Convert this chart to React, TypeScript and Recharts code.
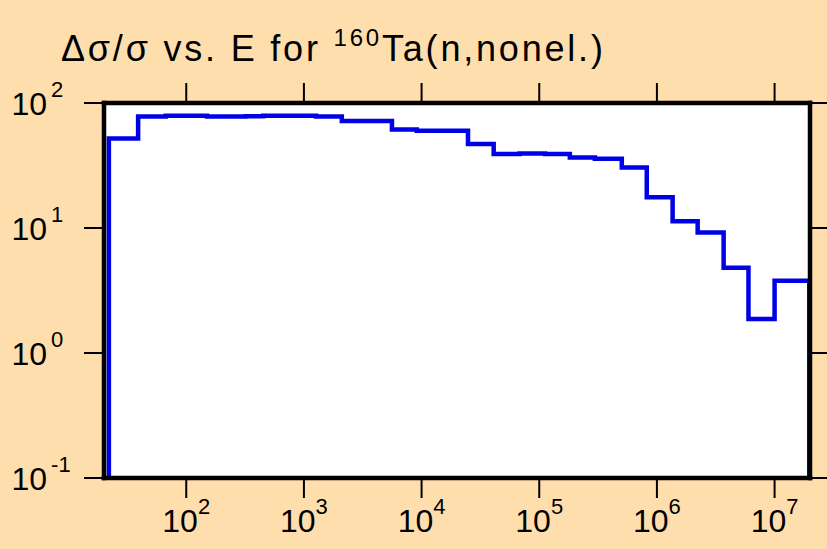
import { LineChart, Line, XAxis, YAxis, CartesianGrid } from 'recharts';

// group boundaries (eV) and relative uncertainty (%)
const binEdges = [
  22, 39, 67, 150, 320, 450, 1270, 2100, 5600, 9100, 24800, 41000, 68000,
  112000, 182000, 297000, 503000, 820000, 1.36e6, 2.22e6, 3.69e6, 6.0e6, 1.0e7, 1.97e7,
];
const binValues = [
  52, 78, 79, 78, 78.5, 79, 78, 71.8, 61.5, 60, 47, 39.1, 39.5, 39.1, 36.7, 35.8,
  30.5, 17.6, 11.3, 9.2, 4.8, 1.87, 3.79,
];
const xTicks = [1e2, 1e3, 1e4, 1e5, 1e6, 1e7];
const yTicks = [0.1, 1, 10, 100];
const xDomain = [20, 2e7];
const yDomain = [0.1, 100];

const FONT = '"Liberation Sans", Arial, sans-serif';

// step outline: rise from the floor, one point per group, drop back at the end
const last = binEdges.length - 1;
const chartData = [
  { e: binEdges[0], v: yDomain[0] },
  ...binValues.map((v, i) => ({ e: binEdges[i], v })),
  { e: binEdges[last], v: binValues[binValues.length - 1] },
  { e: binEdges[last], v: yDomain[0] },
];

const exp = (v: number) => Math.round(Math.log10(v));

const XTick = ({ x, y, payload }: any) => (
  <text x={x} y={y + 32} textAnchor="middle" fontFamily={FONT} fontSize={32} fill="#000">
    <tspan>10</tspan>
    <tspan fontSize={22} dy={-18}>{exp(payload.value)}</tspan>
  </text>
);

const YTick = ({ x, y, payload }: any) => (
  <text x={x - 70.5} y={y + 12} textAnchor="start" fontFamily={FONT} fontSize={32} fill="#000">
    <tspan>10</tspan>
    <tspan fontSize={22} dx={4} dy={-18}>{exp(payload.value)}</tspan>
  </text>
);

const NoTick = () => <g />;

const border = { stroke: '#000', strokeWidth: 4.5, strokeLinecap: 'square' as const };
const tickLine = { stroke: '#000', strokeWidth: 2 };

export default function App() {
  return (
    <div style={{ position: 'absolute', left: 0, top: 0, width: 827, height: 549, background: '#FFDEAD' }}>
      <div
        style={{
          position: 'absolute',
          left: 61,
          top: 31,
          fontFamily: FONT,
          fontSize: 36,
          lineHeight: '36px',
          letterSpacing: 2.8,
          whiteSpace: 'nowrap',
          color: '#000',
        }}
      >
        Δσ/σ vs. E for <span style={{ fontSize: 24, position: 'relative', top: -15 }}>160</span>Ta(n,nonel.)
      </div>
      <LineChart width={827} height={549} data={chartData} margin={{ top: 0, right: 0, bottom: 0, left: 0 }}>
        <CartesianGrid fill="#fff" horizontal={false} vertical={false} xAxisId="b" yAxisId="l" />
        <XAxis
          xAxisId="b"
          dataKey="e"
          type="number"
          scale="log"
          domain={xDomain}
          ticks={xTicks}
          allowDataOverflow
          orientation="bottom"
          height={71}
          tickSize={20}
          axisLine={border}
          tickLine={tickLine}
          tick={<XTick />}
          interval={0}
        />
        <XAxis
          xAxisId="t"
          dataKey="e"
          type="number"
          scale="log"
          domain={xDomain}
          ticks={xTicks}
          allowDataOverflow
          orientation="top"
          height={103}
          tickSize={20}
          axisLine={border}
          tickLine={tickLine}
          tick={<NoTick />}
          interval={0}
        />
        <YAxis
          yAxisId="l"
          type="number"
          scale="log"
          domain={yDomain}
          ticks={yTicks}
          allowDataOverflow
          width={104}
          tickSize={20}
          axisLine={border}
          tickLine={tickLine}
          tick={<YTick />}
          interval={0}
        />
        <YAxis
          yAxisId="r"
          orientation="right"
          type="number"
          scale="log"
          domain={yDomain}
          ticks={yTicks}
          allowDataOverflow
          width={17}
          tickSize={17}
          axisLine={border}
          tickLine={tickLine}
          tick={<NoTick />}
          interval={0}
        />
        <Line
          xAxisId="b"
          yAxisId="l"
          type="stepAfter"
          dataKey="v"
          stroke="#0000e6"
          strokeWidth={4.5}
          dot={false}
          isAnimationActive={false}
        />
      </LineChart>
    </div>
  );
}
